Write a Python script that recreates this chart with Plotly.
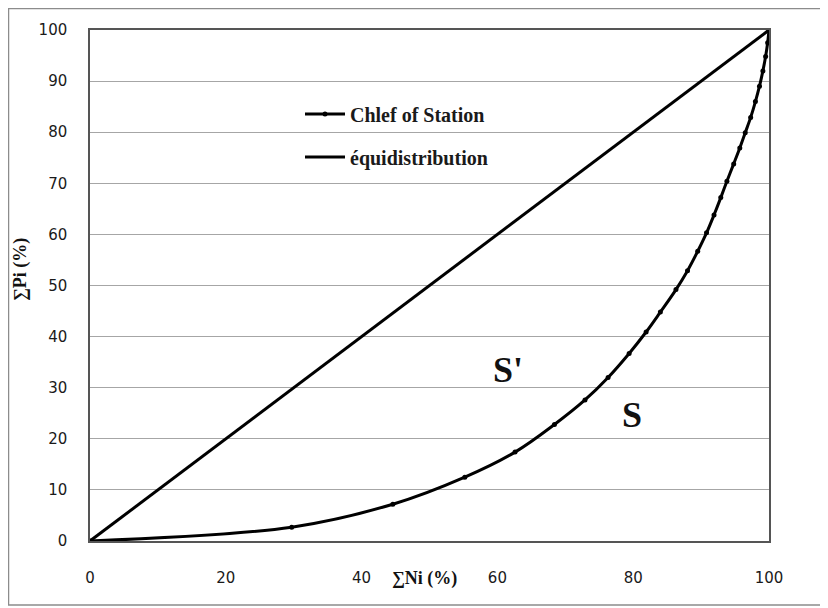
import plotly.graph_objects as go

# Data
ni = [0, 29.7, 44.6, 55.2, 62.6, 68.4, 72.9, 76.3, 79.4, 81.9, 84.0, 86.3, 88.0, 89.5,
      90.8, 91.9, 92.9, 93.8, 94.8, 95.7, 96.5, 97.3, 98.0, 98.6, 99.1, 99.5, 99.8, 100]
pi = [0, 2.7, 7.2, 12.5, 17.4, 22.8, 27.6, 32.0, 36.7, 40.9, 44.8, 49.2, 52.9, 56.7,
      60.3, 63.8, 67.2, 70.4, 73.8, 76.9, 79.9, 82.9, 86.0, 89.0, 92.0, 94.8, 97.5, 100]
equi_x = [0, 100]
equi_y = [0, 100]
x_ticks = [0, 20, 40, 60, 80, 100]
y_ticks = [0, 10, 20, 30, 40, 50, 60, 70, 80, 90, 100]

serif = "Liberation Serif"
tickfont = dict(family="DejaVu Sans", size=15, color="#1a1a1a")

fig = go.Figure()
fig.add_trace(go.Scatter(
    x=ni, y=pi, mode="lines+markers", name="<b>Chlef of Station</b>",
    line=dict(color="black", width=3, shape="spline", smoothing=1.0),
    marker=dict(color="black", size=5), legend="legend", showlegend=True))
fig.add_trace(go.Scatter(
    x=equi_x, y=equi_y, mode="lines", name="<b>équidistribution</b>",
    line=dict(color="black", width=3), legend="legend2", showlegend=True))

# page has an 8px body margin; work in page pixel coords
OFF = 8
W, H = 828 - OFF, 608 - OFF
L, T = 90 - OFF, 30 - OFF
R, B = 828 - 769, 608 - 541
pw, ph = W - L - R, H - T - B

def px(xpix):
    return (xpix - OFF - L) / pw

def py(ypix):
    return (H - B - (ypix - OFF)) / ph

legfont = dict(family=serif, size=20, color="#1a1a1a")

def label(text, x, y, size, angle=0):
    return dict(text=text, x=px(x), y=py(y), xref="paper", yref="paper",
                xanchor="center", yanchor="middle", showarrow=False,
                textangle=angle, font=dict(family=serif, size=size, color="#111111"))

fig.update_layout(
    width=W, height=H,
    margin=dict(l=L, r=R, t=T, b=B),
    paper_bgcolor="white", plot_bgcolor="white",
    showlegend=True,
    legend=dict(x=px(300), y=py(114), yanchor="middle", xanchor="left",
                bgcolor="rgba(0,0,0,0)", font=legfont, itemwidth=40),
    legend2=dict(x=px(300), y=py(157), yanchor="middle", xanchor="left",
                 bgcolor="rgba(0,0,0,0)", font=legfont, itemwidth=40),
    xaxis=dict(range=[0, 100], tickvals=x_ticks, showgrid=False, zeroline=False,
               showline=True, linecolor="#555555", linewidth=1.5, mirror=True,
               tickfont=tickfont, ticks="", ticklabelstandoff=22),
    yaxis=dict(range=[0, 100], tickvals=y_ticks, showgrid=True, gridcolor="#a6a6a6",
               gridwidth=1, zeroline=False, showline=True, linecolor="#555555",
               linewidth=1.5, mirror=True, tickfont=tickfont, ticks="",
               ticklabelstandoff=18),
    annotations=[
        label("<b>S'</b>", 508, 370, 36),
        label("<b>S</b>", 632, 415, 36),
        label("<b>∑Ni (%)</b>", 424, 578, 18),
        label("<b>∑Pi (%)</b>", 20, 270, 18, angle=-90),
    ],
    shapes=[dict(type="rect", xref="paper", yref="paper",
                 x0=px(8.5), x1=px(823), y0=py(605), y1=py(8.5),
                 line=dict(color="#8c8c8c", width=1.5))],
)

fig.write_html("out.html")
